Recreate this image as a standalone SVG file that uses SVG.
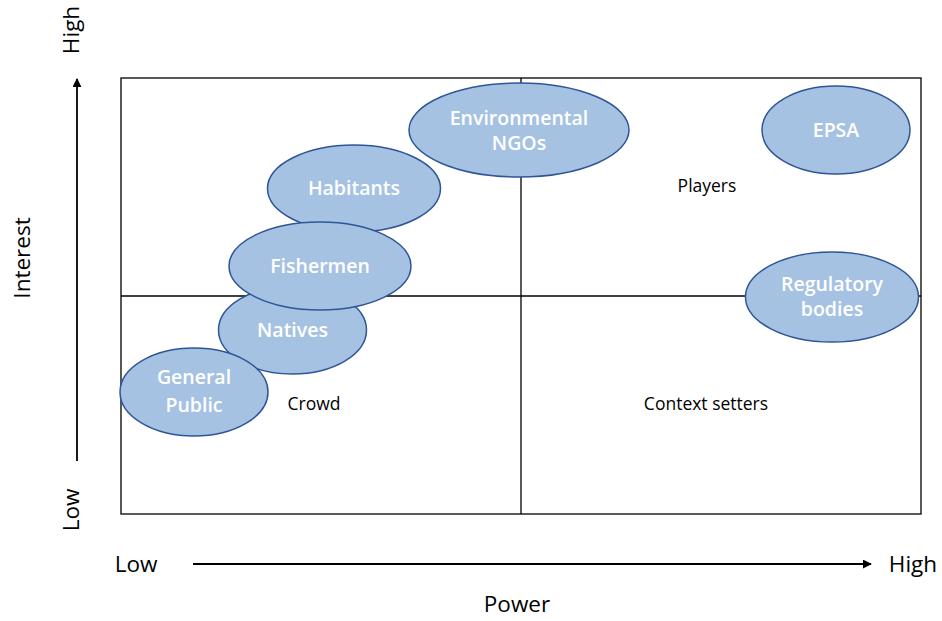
<svg xmlns="http://www.w3.org/2000/svg" width="942" height="621" viewBox="0 0 942 621">
  <style>
    .grid { fill: none; stroke: #000; stroke-width: 1.3; }
    .node ellipse { fill: #A6C2E3; stroke: #2F5597; stroke-width: 1.5; }
    .node text { fill: #fff; font-family: "Open Sans", "Liberation Sans", sans-serif; font-weight: 600; font-size: 19.5px; text-anchor: middle; }
    .lbl { fill: #000; font-family: "Open Sans", "Liberation Sans", sans-serif; font-size: 17.5px; text-anchor: middle; }
    .axis { fill: #000; font-family: "Open Sans", "Liberation Sans", sans-serif; font-size: 22.5px; text-anchor: middle; }
    .arrow { stroke: #000; stroke-width: 1.8; fill: none; marker-end: url(#head); }
  </style>
  <defs>
    <marker id="head" viewBox="0 0 10 10" refX="9" refY="5" markerWidth="5" markerHeight="5" orient="auto" markerUnits="strokeWidth">
      <path d="M0,0 L10,5 L0,10 z" fill="#000"/>
    </marker>
  </defs>
  <rect width="942" height="621" fill="#fff"/>

  <!-- quadrant grid -->
  <g id="grid">
    <rect class="grid" x="121" y="78" width="800" height="436"/>
    <line class="grid" x1="521" y1="78" x2="521" y2="514"/>
    <line class="grid" x1="121" y1="296" x2="921" y2="296"/>
  </g>

  <!-- quadrant labels -->
  <text class="lbl" x="707" y="192">Players</text>
  <text class="lbl" x="314" y="410">Crowd</text>
  <text class="lbl" x="706" y="410">Context setters</text>

  <!-- axes -->
  <g id="connectors">
    <line class="arrow" x1="77" y1="461" x2="77" y2="79"/>
    <line class="arrow" x1="193" y1="564" x2="871" y2="564"/>
  </g>
  <text class="axis" x="136" y="572">Low</text>
  <text class="axis" x="913" y="572">High</text>
  <text class="axis" x="517" y="612">Power</text>
  <text class="axis" transform="translate(79,30) rotate(-90)">High</text>
  <text class="axis" transform="translate(30,258) rotate(-90)">Interest</text>
  <text class="axis" transform="translate(79,510) rotate(-90)">Low</text>

  <!-- stakeholders -->
  <g id="regulatory" class="node">
    <ellipse cx="832" cy="297" rx="86.5" ry="45"/>
    <text x="832" y="291">Regulatory</text>
    <text x="832" y="316">bodies</text>
  </g>
  <g id="epsa" class="node">
    <ellipse cx="836" cy="130" rx="74" ry="44"/>
    <text x="836" y="137">EPSA</text>
  </g>
  <g id="ngos" class="node">
    <ellipse cx="519" cy="130" rx="110" ry="47"/>
    <text x="519" y="125">Environmental</text>
    <text x="519" y="150">NGOs</text>
  </g>
  <g id="habitants" class="node">
    <ellipse cx="354" cy="188.5" rx="86.5" ry="43.5"/>
    <text x="354" y="195">Habitants</text>
  </g>
  <g id="natives" class="node">
    <ellipse cx="292.5" cy="330" rx="74" ry="44"/>
    <text x="292.5" y="337">Natives</text>
  </g>
  <g id="fishermen" class="node">
    <ellipse cx="320" cy="266" rx="91" ry="44"/>
    <text x="320" y="273">Fishermen</text>
  </g>
  <g id="public" class="node">
    <ellipse cx="194" cy="392" rx="74" ry="44"/>
    <text x="194" y="384">General</text>
    <text x="194" y="412">Public</text>
  </g>
</svg>
